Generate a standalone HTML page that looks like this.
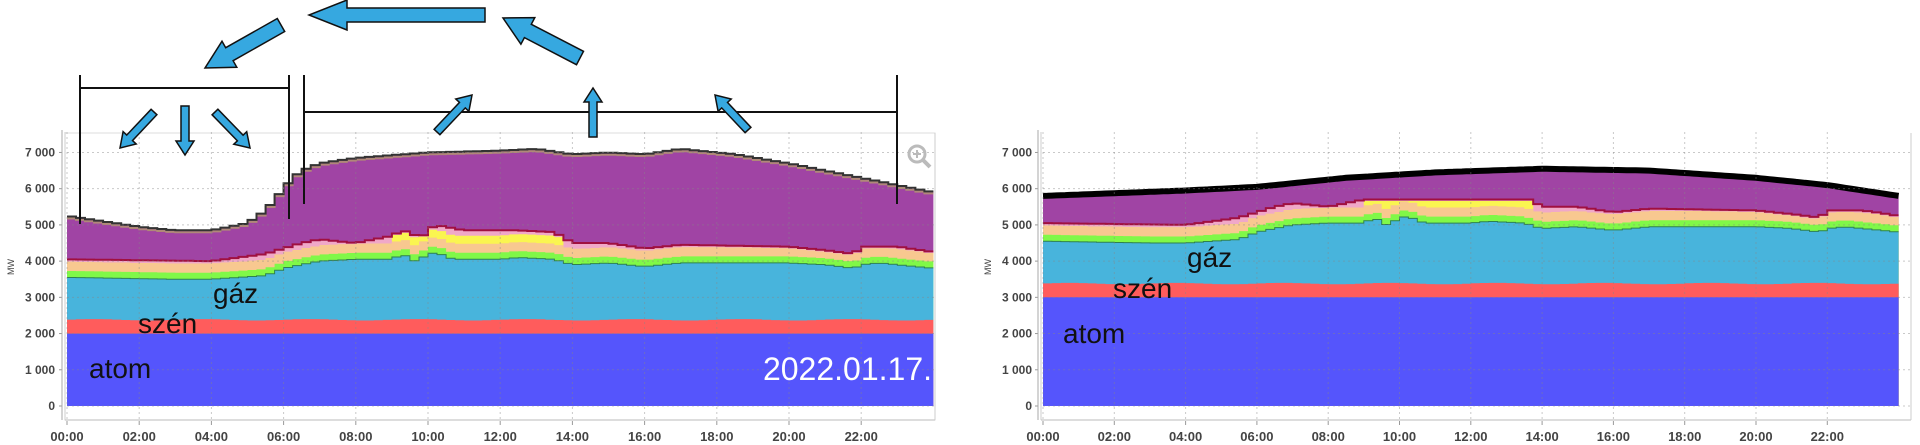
<!DOCTYPE html>
<html><head><meta charset="utf-8"><style>
html,body{margin:0;padding:0;background:#fff;}
svg{display:block;}
.ax{font-family:"Liberation Sans",sans-serif;font-weight:bold;font-size:12px;fill:#444;}
.lb{font-family:"Liberation Sans","DejaVu Sans",sans-serif;font-size:28px;fill:#111;}
</style></head><body>
<svg id="s" width="1920" height="445" xmlns="http://www.w3.org/2000/svg"></svg>
<script>
const S=document.getElementById('s');let h='';
function lerp(k,t){if(t<=k[0][0])return k[0][1];for(let i=1;i<k.length;i++){if(t<=k[i][0]){const a=k[i-1],b=k[i];return a[1]+(b[1]-a[1])*(t-a[0])/(b[0]-a[0]);}}return k[k.length-1][1];}
const Yv=v=>406-v*0.03622;
const G=[[0,3550],[3,3500],[4,3500],[5.5,3600],[6,3800],[7,4000],[8,4050],[9,4050],[9.3,4200],[9.6,4000],[10.2,4250],[10.7,4050],[12,4050],[12.5,4100],[13.5,4050],[14,3900],[15,3950],[16,3850],[17,3950],[20,3950],[21,3900],[21.8,3800],[22,3900],[22.5,3950],[24,3800]];
const O=[[0,4050],[4,4000],[5.5,4200],[6.5,4500],[7,4600],[8,4500],[9,4700],[9.3,4850],[9.8,4650],[10.2,5000],[11,4850],[12.5,4850],[13.5,4800],[14,4500],[15,4500],[16,4350],[17,4450],[20,4400],[21,4300],[21.8,4200],[22,4400],[23,4400],[24,4250]];
const T=[[0,5250],[1,5100],[2,4950],[3,4850],[4,4850],[5,5050],[5.5,5400],[6,6000],[6.25,6300],[6.5,6500],[7,6700],[8,6850],[10,7000],[12,7050],[13,7100],[14,6950],[15,7000],[16,6950],[17,7100],[18.5,6950],[20,6700],[21.5,6400],[22.5,6200],[24,5900]];
const TR=[[0,5800],[4,5950],[6,6050],[8.5,6300],[11,6450],[14,6550],[17,6500],[20,6300],[22,6100],[24,5800]];
function yel(t){return (t>9&&t<13.7)?1:0;}
function chart(x0,ph,off,right){
 const N=96,xs=i=>x0+i*ph/4;
 const o=t=>Math.min(lerp(O,t)+off,5700);
 const g=t=>lerp(G,t)+off;
 const p=t=>Math.min(g(t)+430,o(t)-50);
 const f={
  A:t=>off?3000:2000,
  C:t=>(off?3380:2380)+20*Math.sin(t*2.1),
  Gr:t=>Math.min(g(t)+180,o(t)-120),
  Y:t=>yel(t)?Math.min(p(t)+220,o(t)-40):p(t),
 };
 function step(fn){let q=[];for(let i=0;i<N;i++){const v=fn(i/4+0.125);q.push([xs(i),Yv(v)],[xs(i+1),Yv(v)]);}return q;}
 function smooth(k){let q=[];for(let i=0;i<=N*2;i++){const t=i/8;q.push([x0+t*ph,Yv(lerp(k,t))]);}return q;}
 function area(q,c){return `<path d="M${q[0][0]},406 `+q.map(r=>`L${r[0].toFixed(1)},${r[1].toFixed(1)}`).join(' ')+` L${q[q.length-1][0]},406Z" fill="${c}"/>`;}
 function line(q,c,w){return `<path d="M`+q.map(r=>`${r[0].toFixed(1)},${r[1].toFixed(1)}`).join(' L')+`" fill="none" stroke="${c}" stroke-width="${w}"/>`;}
 const tot=right?smooth(TR):step(t=>lerp(T,t));
 let s='';
 s+=area(tot,'#A044A4');
 s+=area(step(o),'#F0A8C8');
 s+=area(step(f.Y),'#FAF550');
 s+=area(step(p),'#F8C890');
 s+=area(step(f.Gr),'#80F848');
 s+=area(step(g),'#48B4DC');
 s+=area(step(f.C),'#FF5C5C');
 s+=area(step(f.A),'#5555FC');
 s+=line(step(o),'#A01040',2);
 s+=line(step(g),'#2E8050',1);
 if(right)s+=line(tot,'#000',6);else{s+=line(tot.map(r=>[r[0],r[1]+2]),'#B08878',2);s+=line(tot,'#333',2);}
 return s;
}
function axes(x0,ph,xr,labEnd){
 let s='';
 for(let v=0;v<=7000;v+=1000){const y=Yv(v);s+=`<line x1="${x0}" x2="${xr}" y1="${y}" y2="${y}" stroke="#888" stroke-opacity=".45" stroke-dasharray="2,3"/>`;
  s+=`<text class="ax" x="${labEnd}" y="${y+4}" text-anchor="end">${v==0?'0':(v/1000)+' 000'}</text>`;
  s+=`<line x1="${x0-8}" x2="${x0-5}" y1="${y}" y2="${y}" stroke="#999"/>`;}
 for(let hh=0;hh<24;hh+=2){const x=x0+hh*ph;s+=`<line x1="${x}" x2="${x}" y1="132" y2="420" stroke="#888" stroke-opacity=".45" stroke-dasharray="2,3"/>`;
  s+=`<text class="ax" x="${x}" y="441" text-anchor="middle" style="font-size:13px">${String(hh).padStart(2,'0')}:00</text>`;
  s+=`<line x1="${x}" x2="${x}" y1="421" y2="425" stroke="#999"/>`;}
 s+=`<line x1="${x0-5}" x2="${x0-5}" y1="130" y2="420" stroke="#aaa"/>`;
 s+=`<line x1="${x0-2}" x2="${xr}" y1="420" y2="420" stroke="#bbb"/>`;
 s+=`<line x1="${x0-2}" x2="${x0-2}" y1="132" y2="420" stroke="#ccc"/>`;
 s+=`<text class="ax" transform="translate(${labEnd-41},275) rotate(-90)" style="font-size:9px;font-weight:normal">MW</text>`;
 return s;
}
h+=`<rect x="65" y="133" width="870" height="287" fill="none" stroke="#ddd"/>`;
h+=chart(67,36.1,0,false);
h+=axes(67,36.1,935,55);
h+=`<line x1="935" x2="935" y1="133" y2="420" stroke="#ccc"/>`;
h+=chart(1043,35.65,1000,true);
h+=axes(1043,35.65,1911,1032);
h+=`<line x1="1911" x2="1911" y1="133" y2="420" stroke="#ccc"/>`;
h+=`<circle cx="917" cy="154" r="8" fill="none" stroke="#bbb" stroke-width="3"/><line x1="923" y1="160" x2="930" y2="167" stroke="#bbb" stroke-width="4"/><path d="M917,150v8M913,154h8" stroke="#bbb" stroke-width="2"/>`;
h+=`<text class="lb" x="89" y="378">atom</text><text class="lb" x="138" y="333">szén</text><text class="lb" x="213" y="303">gáz</text>`;
h+=`<text class="lb" x="1063" y="343">atom</text><text class="lb" x="1113" y="298">szén</text><text class="lb" x="1187" y="267">gáz</text>`;
h+=`<text x="932" y="380" text-anchor="end" style="font-family:'Liberation Sans',sans-serif;font-size:32px;fill:#fff">2022.01.17.</text>`;
h+=`<g stroke="#111" stroke-width="2"><line x1="80" y1="75" x2="80" y2="224"/><line x1="289" y1="75" x2="289" y2="219"/><line x1="80" y1="88" x2="289" y2="88"/>
<line x1="304" y1="75" x2="304" y2="204"/><line x1="897" y1="75" x2="897" y2="204"/><line x1="304" y1="112" x2="897" y2="112"/></g>`;
function arrow(x1,y1,x2,y2,w,hw,hl){const dx=x2-x1,dy=y2-y1,L=Math.hypot(dx,dy),ux=dx/L,uy=dy/L,nx=-uy,ny=ux;
 const bx=x2-ux*hl,by=y2-uy*hl;const P=[[x1+nx*w/2,y1+ny*w/2],[bx+nx*w/2,by+ny*w/2],[bx+nx*hw/2,by+ny*hw/2],[x2,y2],[bx-nx*hw/2,by-ny*hw/2],[bx-nx*w/2,by-ny*w/2],[x1-nx*w/2,y1-ny*w/2]];
 return `<polygon points="${P.map(q=>q[0].toFixed(1)+','+q[1].toFixed(1)).join(' ')}" fill="#36A8E0" stroke="#111" stroke-width="1.5"/>`;}
h+=arrow(485,15,309,15,14,30,38);
h+=arrow(281,25,205,68,15,30,28);
h+=arrow(580,58,503,18,15,30,28);
h+=arrow(154,112,120,148,8,18,14);
h+=arrow(185,106,185,155,8,18,14);
h+=arrow(215,112,250,148,8,18,14);
h+=arrow(437,132,472,95,8,18,14);
h+=arrow(593,137,593,88,8,18,14);
h+=arrow(748,130,715,95,8,18,14);
S.innerHTML=h;
</script>
</body></html>
